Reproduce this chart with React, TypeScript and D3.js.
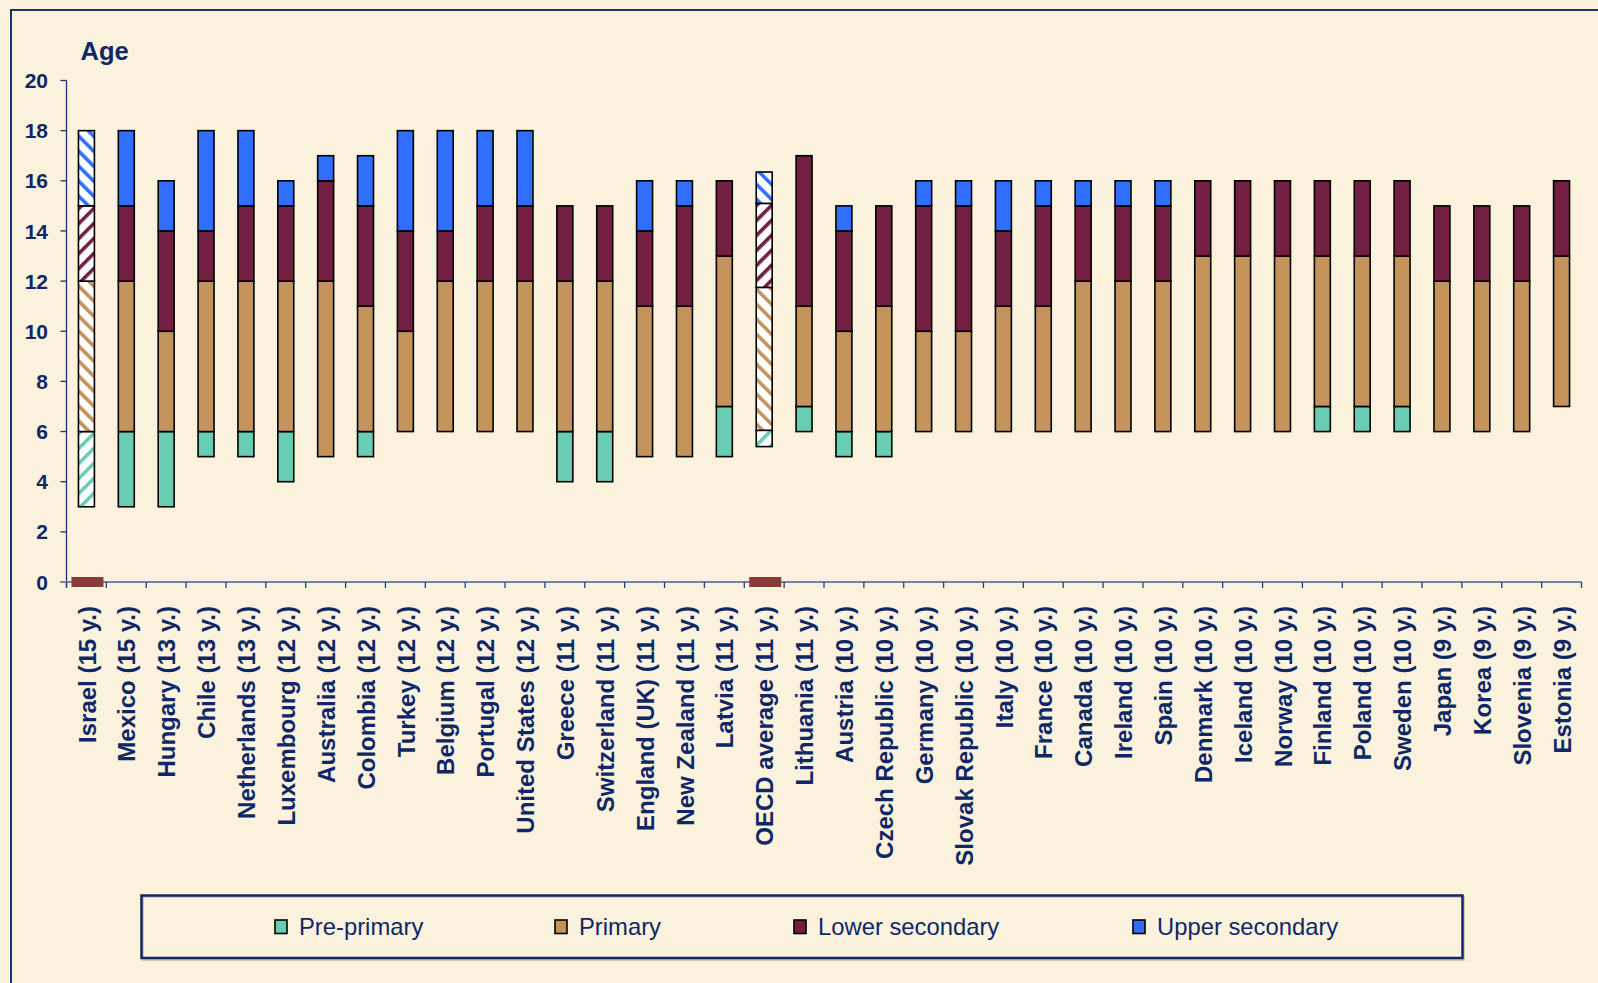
import React from 'react';
import * as d3 from 'd3';

const countries = [
  'Israel (15 y.)', 'Mexico (15 y.)', 'Hungary (13 y.)', 'Chile (13 y.)', 'Netherlands (13 y.)',
  'Luxembourg (12 y.)', 'Australia (12 y.)', 'Colombia (12 y.)', 'Turkey (12 y.)', 'Belgium (12 y.)',
  'Portugal (12 y.)', 'United States (12 y.)', 'Greece (11 y.)', 'Switzerland (11 y.)', 'England (UK) (11 y.)',
  'New Zealand (11 y.)', 'Latvia (11 y.)', 'OECD average (11 y.)', 'Lithuania (11 y.)', 'Austria (10 y.)',
  'Czech Republic (10 y.)', 'Germany (10 y.)', 'Slovak Republic (10 y.)', 'Italy (10 y.)', 'France (10 y.)',
  'Canada (10 y.)', 'Ireland (10 y.)', 'Spain (10 y.)', 'Denmark (10 y.)', 'Iceland (10 y.)',
  'Norway (10 y.)', 'Finland (10 y.)', 'Poland (10 y.)', 'Sweden (10 y.)', 'Japan (9 y.)',
  'Korea (9 y.)', 'Slovenia (9 y.)', 'Estonia (9 y.)',
];

// Age at which each level starts (null = level not shown), and the age at which compulsory education ends
const preStart: (number | null)[] = [3, 3, 3, 5, 5, 4, null, 5, null, null, null, null, 4, 4, null, null, 5, 5.4, 6, 5, 5, null, null, null, null, null, null, null, null, null, null, 6, 6, 6, null, null, null, null];
const primaryStart: number[] = [6, 6, 6, 6, 6, 6, 5, 6, 6, 6, 6, 6, 6, 6, 5, 5, 7, 6.05, 7, 6, 6, 6, 6, 6, 6, 6, 6, 6, 6, 6, 6, 7, 7, 7, 6, 6, 6, 7];
const lowerStart: number[] = [12, 12, 10, 12, 12, 12, 12, 11, 10, 12, 12, 12, 12, 12, 11, 11, 13, 11.75, 11, 10, 11, 10, 10, 11, 11, 12, 12, 12, 13, 13, 13, 13, 13, 13, 12, 12, 12, 13];
const upperStart: (number | null)[] = [15, 15, 14, 14, 15, 15, 16, 15, 14, 14, 15, 15, null, null, 14, 15, null, 15.1, null, 14, null, 15, 15, 14, 15, 15, 15, 15, null, null, null, null, null, null, null, null, null, null];
const endAge: number[] = [18, 18, 16, 18, 18, 16, 17, 17, 18, 18, 18, 18, 15, 15, 16, 16, 16, 16.35, 17, 15, 15, 16, 16, 16, 16, 16, 16, 16, 16, 16, 16, 16, 16, 16, 15, 15, 15, 16];

const hatchedCountries = ['Israel (15 y.)', 'OECD average (11 y.)'];
const markerCountries = ['Israel (15 y.)', 'OECD average (11 y.)'];

const levels = ['Pre-primary', 'Primary', 'Lower secondary', 'Upper secondary'];
const levelColors = ['#69CDB4', '#C4935B', '#731F41', '#2F6EFF'];
const hatchAngles = [45, -45, 45, -45];

const yTicks = [0, 2, 4, 6, 8, 10, 12, 14, 16, 18, 20];

const NAVY = '#0f2766';
const BG = '#FAF2DC';

export default function App() {
  const W = 1598;
  const H = 983;
  const x = d3.scaleBand<string>().domain(countries).range([66.5, 1581.5]).padding(0);
  const y = d3.scaleLinear().domain([0, 20]).range([582, 80.5]);
  const bw = x.bandwidth();
  const barW = bw * 0.4;

  const segs: { key: string; i: number; lvl: number; from: number; to: number; hatched: boolean; cx: number }[] = [];
  countries.forEach((c, i) => {
    const bounds = [preStart[i], primaryStart[i], lowerStart[i], upperStart[i]];
    const cx = (x(c) as number) + bw / 2;
    const hatched = hatchedCountries.includes(c);
    for (let l = 0; l < 4; l++) {
      const from = bounds[l];
      if (from == null) continue;
      let to: number = endAge[i];
      for (let k = l + 1; k < 4; k++) {
        if (bounds[k] != null) { to = bounds[k] as number; break; }
      }
      segs.push({ key: c + l, i, lvl: l, from, to, hatched, cx });
    }
  });

  const xBoundaries = d3.range(countries.length + 1).map((k) => 66.5 + k * bw);
  const legendX = [275, 555, 794, 1133];

  return (
    <svg width={W} height={H} style={{ position: 'absolute', left: 0, top: 0, display: 'block' }}
      fontFamily="'Liberation Sans', Arial, sans-serif">
      <defs>
        {levels.map((lv, l) => (
          <pattern key={lv} id={`hatch${l}`} patternUnits="userSpaceOnUse" width={10.6} height={10.6}
            patternTransform={`rotate(${hatchAngles[l]})`}>
            <rect x={0} y={0} width={10.6} height={10.6} fill="#ffffff" />
            <rect x={0} y={0} width={3.6} height={10.6} fill={levelColors[l]} />
          </pattern>
        ))}
      </defs>
      <rect x={0} y={0} width={W} height={H} fill={BG} />
      <rect x={11} y={10} width={W + 20} height={H + 20} fill="none" stroke="#1b3370" strokeWidth={2} />

      <text x={80.5} y={60} fontSize={25.5} fontWeight="bold" fill={NAVY}>Age</text>

      {/* y axis */}
      <line x1={66.5} x2={66.5} y1={y(20)} y2={588} stroke="#1b3370" strokeWidth={1.3} />
      {yTicks.map((t) => (
        <g key={t}>
          <line x1={60.5} x2={66.5} y1={y(t)} y2={y(t)} stroke="#1b3370" strokeWidth={1.3} />
          <text x={48} y={y(t)} dy="0.36em" textAnchor="end" fontSize={21} fontWeight="bold" fill={NAVY}>{t}</text>
        </g>
      ))}

      {/* x axis */}
      <line x1={60.5} x2={1581.5} y1={582} y2={582} stroke="#7584a6" strokeWidth={2} />
      {xBoundaries.map((bx, k) => (
        <line key={k} x1={bx} x2={bx} y1={582} y2={588} stroke="#2a3f78" strokeWidth={1.3} />
      ))}

      {/* bars */}
      {segs.map((s) => (
        <rect key={s.key} x={s.cx - barW / 2} y={y(s.to)} width={barW} height={y(s.from) - y(s.to)}
          fill={s.hatched ? `url(#hatch${s.lvl})` : levelColors[s.lvl]} stroke="#000" strokeWidth={1.6} />
      ))}

      {/* markers at zero */}
      {markerCountries.map((c) => (
        <rect key={c} x={(x(c) as number) + bw / 2 - 15} y={577} width={32} height={10} fill="#8C3B3B" />
      ))}

      {/* x labels */}
      {countries.map((c) => (
        <text key={c} transform={`translate(${(x(c) as number) + bw / 2},606) rotate(-90)`} dy="0.38em"
          textAnchor="end" fontSize={24} fontWeight="bold" fill={NAVY}>{c}</text>
      ))}

      {/* legend */}
      <rect x={143} y={897} width={1321} height={63} fill="none" stroke="#c2bcaa" strokeWidth={1.5} />
      <rect x={141.5} y={895.5} width={1321} height={62.5} fill="none" stroke={NAVY} strokeWidth={2.5} />
      {levels.map((lv, l) => (
        <g key={lv}>
          <rect x={legendX[l]} y={920} width={12} height={13.5} fill={levelColors[l]} stroke="#000" strokeWidth={1.6} />
          <text x={legendX[l] + 24} y={934.5} fontSize={23.8} fill={NAVY}>{lv}</text>
        </g>
      ))}
    </svg>
  );
}
